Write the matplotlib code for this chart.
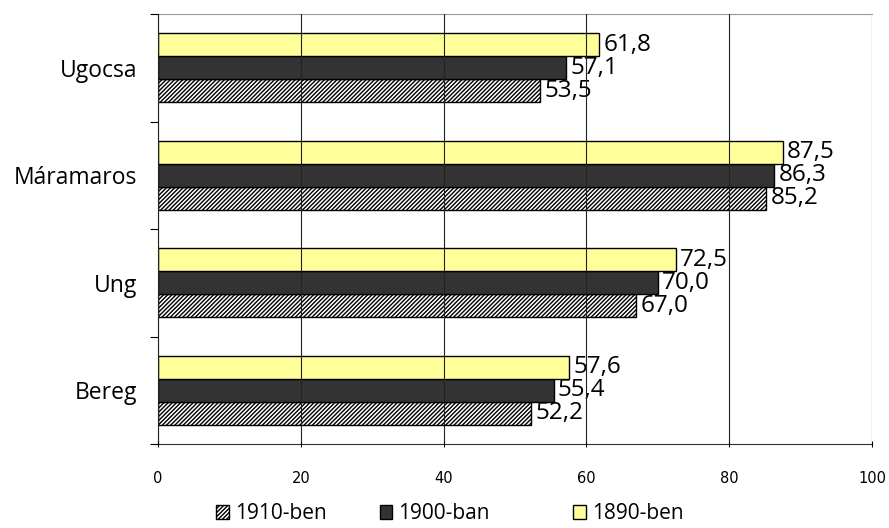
import matplotlib.pyplot as plt
import numpy as np

counties = ["Bereg", "Ung", "Máramaros", "Ugocsa"]
series_names = ["1910-ben", "1900-ban", "1890-ben"]
vals_1910 = [52.2, 67.0, 85.2, 53.5]
vals_1900 = [55.4, 70.0, 86.3, 57.1]
vals_1890 = [57.6, 72.5, 87.5, 61.8]

plt.rcParams["font.family"] = ["Open Sans", "DejaVu Sans"]
plt.rcParams["hatch.linewidth"] = 1.0

fig = plt.figure(figsize=(8.89, 5.28), dpi=100)
ax = fig.add_axes([0.1777, 0.159, 0.8033, 0.8145])

y = np.arange(len(counties))
h = 0.213
styles = [
    dict(facecolor="white", edgecolor="black", hatch="////////", linewidth=1.0),
    dict(facecolor="#333333", edgecolor="black", linewidth=1.0),
    dict(facecolor="#FFFF99", edgecolor="black", linewidth=1.0),
]

handles = []
for i, (vals, st, name) in enumerate(zip([vals_1910, vals_1900, vals_1890], styles, series_names)):
    pos = y + (i - 1) * h
    bars = ax.barh(pos, vals, height=h, label=name, zorder=2, **st)
    handles.append(bars)
    for p, v in zip(pos, vals):
        ax.text(v + 0.6, p, f"{v:.1f}".replace(".", ","), va="center", ha="left",
                fontsize=17.5, zorder=1)

ax.set_xlim(0, 100)
ax.set_ylim(-0.5, len(counties) - 0.5)
ax.set_xticks(np.arange(0, 101, 20))
ax.set_xticklabels([str(t) for t in range(0, 101, 20)], family="DejaVu Sans", fontsize=10.5)
ax.xaxis.grid(True, color="#222222", linewidth=0.8, zorder=0)
ax.set_axisbelow(False)
ax.set_yticks(np.arange(-0.5, len(counties), 1.0))
ax.set_yticklabels([])
ax.set_yticks(y, minor=True)
ax.set_yticklabels(counties, minor=True, fontsize=16.5)
ax.tick_params(axis="y", which="minor", length=0, pad=15)
ax.tick_params(axis="y", which="major", length=6, direction="out")
ax.tick_params(axis="x", length=5, direction="inout", pad=17)

ax.spines["right"].set_visible(False)
ax.spines["top"].set_color("#999999")
ax.spines["left"].set_color("#333333")
ax.spines["bottom"].set_color("#333333")

# one legend per entry so the uneven spacing can be kept
for handle, name, lx in zip(handles, series_names, [0.243, 0.427, 0.645]):
    leg = fig.legend(handles=[handle], labels=[name], loc="center left", frameon=False,
                     bbox_to_anchor=(lx, 0.027), fontsize=15, borderpad=0, borderaxespad=0,
                     handlelength=0.6, handleheight=0.6, handletextpad=0.3)

fig.savefig("out.png", dpi=100)
